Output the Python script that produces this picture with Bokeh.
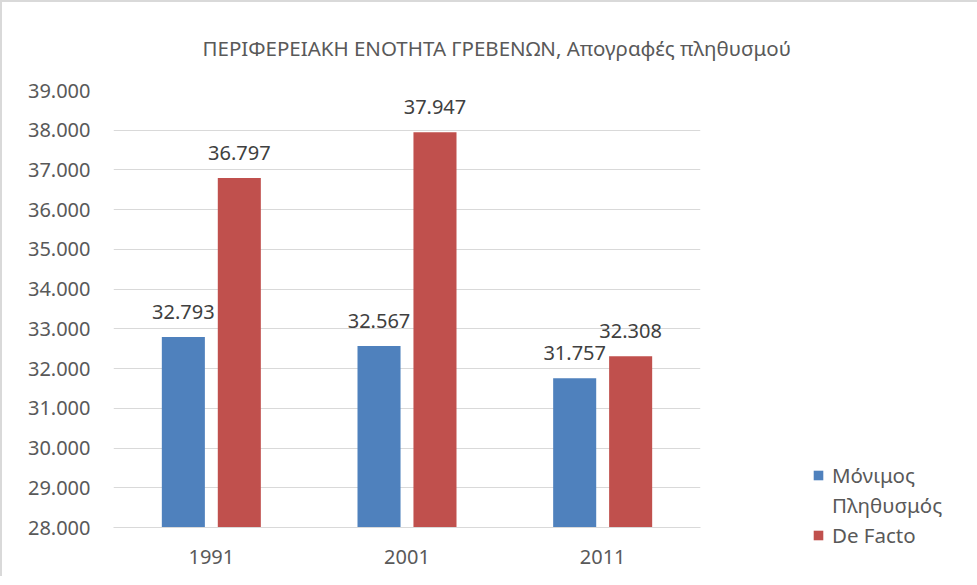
from bokeh.plotting import figure
from bokeh.models import (FactorRange, Range1d, FixedTicker, LabelSet, ColumnDataSource,
                          Legend, LegendItem)
from bokeh.core.properties import value
from bokeh.transform import dodge
from bokeh.embed import file_html
from bokeh.resources import INLINE

# ---- data ----
years = ["1991", "2001", "2011"]
permanent = [32793, 32567, 31757]
de_facto = [36797, 37947, 32308]
series_names = ["Μόνιμος Πληθυσμός", "De Facto"]
title_text = "ΠΕΡΙΦΕΡΕΙΑΚΗ ΕΝΟΤΗΤΑ ΓΡΕΒΕΝΩΝ, Απογραφές πληθυσμού"
y_ticks = list(range(28000, 39001, 1000))


def fmt(v):
    return f"{v:,}".replace(",", ".")


FONT = "Noto Sans"
TXT = "#595959"
GRID = "#d9d9d9"
BLUE = "#4F81BD"
RED = "#C0504D"

src = ColumnDataSource(dict(
    year=years,
    perm=permanent,
    df=de_facto,
    perm_lbl=[fmt(v) for v in permanent],
    df_lbl=[fmt(v) for v in de_facto],
))

p = figure(
    x_range=FactorRange(*years),
    y_range=Range1d(y_ticks[0], y_ticks[-1]),
    frame_width=587, frame_height=437,
    min_border_left=111, min_border_right=261,
    min_border_top=88, min_border_bottom=49,
    output_backend="svg", toolbar_location=None,
)
p.styles = {"border-top": "2px solid #d9d9d9", "border-left": "2px solid #d9d9d9"}
p.outline_line_color = None
p.background_fill_color = "white"
p.border_fill_color = "white"

BW = 0.22
OFF = 0.143
base = y_ticks[0]

r1 = p.vbar(x=dodge("year", -OFF, range=p.x_range), top="perm", bottom=base, width=BW,
            source=src, fill_color=BLUE, line_color=None)
r2 = p.vbar(x=dodge("year", OFF, range=p.x_range), top="df", bottom=base, width=BW,
            source=src, fill_color=RED, line_color=None)
r_blank = p.vbar(x=dodge("year", OFF, range=p.x_range), top="df", bottom=base, width=BW,
                 source=src, fill_alpha=0, line_alpha=0)

for xoff, col, lbl in [(-OFF, "perm", "perm_lbl"), (OFF, "df", "df_lbl")]:
    ls = LabelSet(x=dodge("year", xoff, range=p.x_range), y=col, text=lbl, source=src,
                  text_align="center", text_baseline="alphabetic", y_offset=18,
                  text_font=value(FONT), text_font_size=value("20px"),
                  text_color="#404040")
    p.add_layout(ls)

# axes
p.yaxis.ticker = FixedTicker(ticks=y_ticks)
p.yaxis.major_label_overrides = {t: fmt(t) for t in y_ticks}
p.yaxis.axis_line_color = None
p.yaxis.major_tick_line_color = None
p.yaxis.minor_tick_line_color = None
p.yaxis.major_tick_out = 0
p.yaxis.major_tick_in = 0
p.yaxis.major_label_standoff = 23
p.yaxis.major_label_text_font = FONT
p.yaxis.major_label_text_font_size = "20px"
p.yaxis.major_label_text_color = TXT

p.xaxis.axis_line_color = GRID
p.xaxis.axis_line_width = 1
p.xaxis.major_tick_line_color = None
p.xaxis.minor_tick_line_color = None
p.xaxis.major_tick_out = 0
p.xaxis.major_tick_in = 0
p.xaxis.major_label_standoff = 22
p.xaxis.major_label_text_font = FONT
p.xaxis.major_label_text_font_size = "20px"
p.xaxis.major_label_text_color = TXT

p.xgrid.grid_line_color = None
p.ygrid.grid_line_color = GRID
p.ygrid.grid_line_width = 1

# title
p.title.text = title_text
p.title.align = "left"
p.title.offset = 89
p.title.standoff = 58
p.title.text_font = FONT
p.title.text_font_size = "20.5px"
p.title.text_font_style = "normal"
p.title.text_color = TXT

# legend
w1, w2 = series_names[0].split(" ", 1)
legend = Legend(items=[
    LegendItem(label=w1, renderers=[r1]),
    LegendItem(label=w2, renderers=[r_blank]),
    LegendItem(label=series_names[1], renderers=[r2]),
], location=(112, -22))
legend.padding = 0
legend.margin = 0
legend.border_line_color = None
legend.background_fill_alpha = 0
legend.glyph_width = 12
legend.glyph_height = 12
legend.label_height = 27
legend.spacing = 2
legend.label_standoff = 8
legend.label_text_font = FONT
legend.label_text_font_size = "20.5px"
legend.label_text_color = TXT
p.add_layout(legend, "right")

open("out.html", "w").write(file_html(p, INLINE))
